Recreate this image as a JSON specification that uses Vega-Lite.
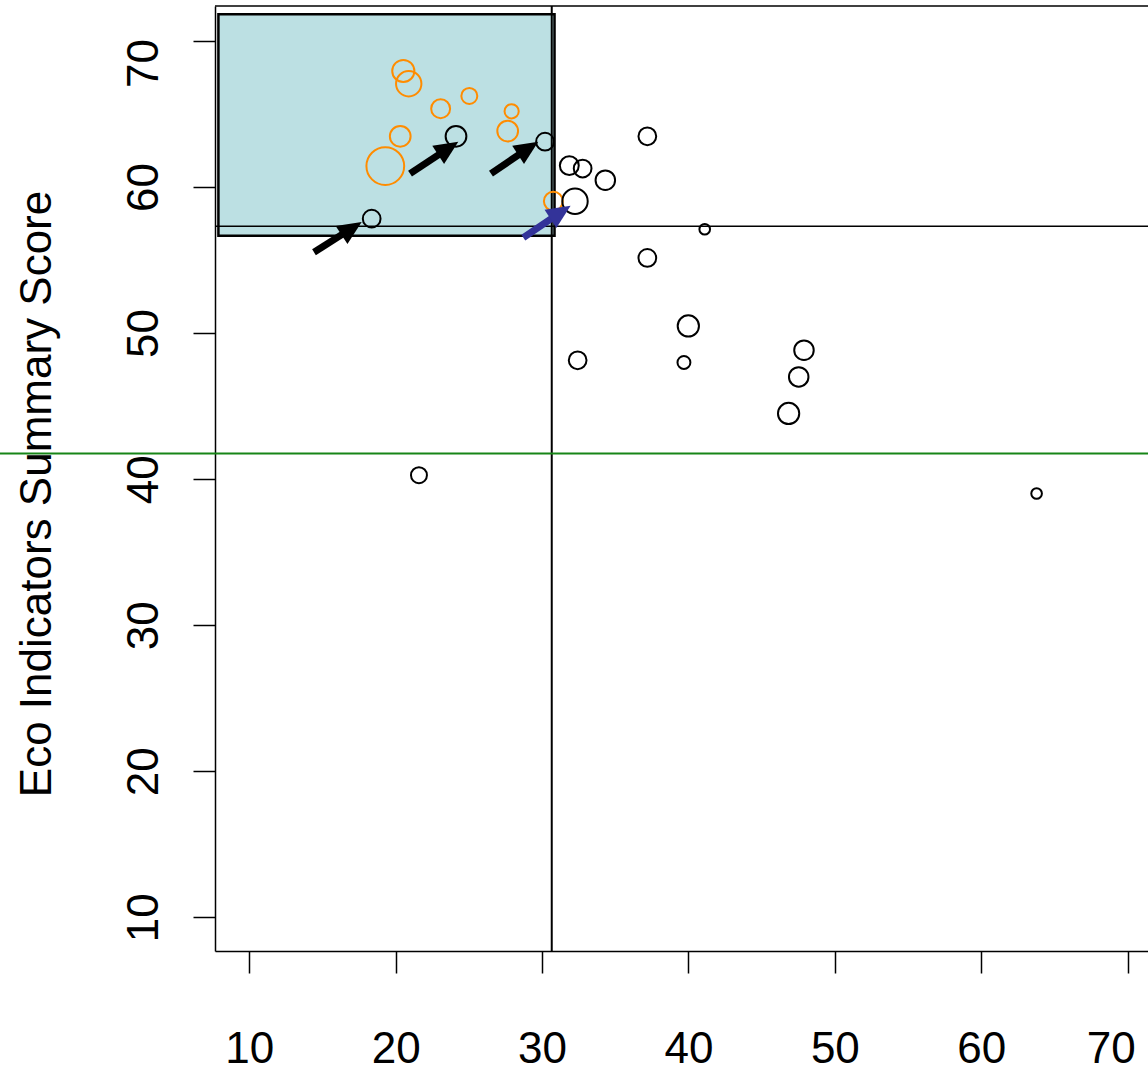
{
  "$schema": "https://vega.github.io/schema/vega-lite/v6.json",
  "width": 933,
  "height": 945,
  "autosize": {"type": "none"},
  "padding": {"left": 215, "top": 6, "right": 0, "bottom": 117},
  "background": "white",
  "config": {
    "view": {"stroke": null},
    "font": "Liberation Sans"
  },
  "datasets": {
    "pts": [
      {"x": 20.52, "y": 67.95, "w": 156, "g": "highlight"},
      {"x": 20.89, "y": 67.08, "w": 205, "g": "highlight"},
      {"x": 23.07, "y": 65.37, "w": 114, "g": "highlight"},
      {"x": 25.03, "y": 66.24, "w": 81, "g": "highlight"},
      {"x": 27.92, "y": 65.19, "w": 64, "g": "highlight"},
      {"x": 27.65, "y": 63.84, "w": 137, "g": "highlight"},
      {"x": 20.31, "y": 63.48, "w": 137, "g": "highlight"},
      {"x": 19.29, "y": 61.44, "w": 454, "g": "highlight"},
      {"x": 30.77, "y": 59.03, "w": 114, "g": "highlight"},
      {"x": 24.12, "y": 63.48, "w": 137, "g": "other"},
      {"x": 30.2, "y": 63.11, "w": 100, "g": "other"},
      {"x": 18.36, "y": 57.84, "w": 100, "g": "other"},
      {"x": 37.19, "y": 63.48, "w": 100, "g": "other"},
      {"x": 31.86, "y": 61.47, "w": 114, "g": "other"},
      {"x": 32.77, "y": 61.27, "w": 100, "g": "other"},
      {"x": 34.32, "y": 60.47, "w": 121, "g": "other"},
      {"x": 32.25, "y": 59.03, "w": 205, "g": "other"},
      {"x": 41.11, "y": 57.11, "w": 36, "g": "other"},
      {"x": 37.19, "y": 55.15, "w": 100, "g": "other"},
      {"x": 32.43, "y": 48.14, "w": 100, "g": "other"},
      {"x": 39.99, "y": 50.49, "w": 144, "g": "other"},
      {"x": 39.69, "y": 47.99, "w": 53, "g": "other"},
      {"x": 47.89, "y": 48.83, "w": 121, "g": "other"},
      {"x": 47.53, "y": 47.0, "w": 121, "g": "other"},
      {"x": 46.84, "y": 44.5, "w": 144, "g": "other"},
      {"x": 21.59, "y": 40.27, "w": 81, "g": "other"},
      {"x": 63.78, "y": 39.02, "w": 36, "g": "other"}
    ],
    "arrows": [
      {"x": 14.42, "y": 55.54, "hx": 16.99, "hy": 57.17, "g": "pointer"},
      {"x": 20.98, "y": 60.92, "hx": 23.59, "hy": 62.65, "g": "pointer"},
      {"x": 26.51, "y": 60.92, "hx": 29.05, "hy": 62.65, "g": "pointer"},
      {"x": 28.72, "y": 56.54, "hx": 31.26, "hy": 58.27, "g": "pointer2"}
    ],
    "box": [
      {"x1": 7.89, "x2": 30.85, "y1": 71.84, "y2": 56.67}
    ],
    "hlines": [
      {"y": 72.4, "kind": "frame"},
      {"y": 57.32, "kind": "cut"}
    ],
    "vlines": [
      {"x": 30.66}
    ],
    "green": [
      {"x": -7.03, "x2": 71.39, "y": 41.76}
    ]
  },
  "layer": [
    {
      "data": {"name": "box"},
      "mark": {"type": "rect", "fill": "#BCE0E3", "stroke": "#000000", "strokeWidth": 2.5},
      "encoding": {
        "x": {"field": "x1", "type": "quantitative",
          "scale": {"domain": [7.657, 71.39], "nice": false, "zero": false},
          "axis": {
            "values": [10, 20, 30, 40, 50, 60, 70],
            "title": null, "grid": false,
            "domain": true, "domainColor": "#000000", "domainWidth": 1.5,
            "ticks": true, "tickSize": 22, "tickWidth": 1.5, "tickColor": "#000000",
            "labelFont": "Liberation Sans", "labelFontSize": 44, "labelColor": "#000000",
            "labelPadding": 89, "labelBaseline": "alphabetic", "labelAlign": "center",
            "labelOffset": {"condition": {"test": "datum.value == 70", "value": -17}, "value": 0},
            "labelFlush": false, "labelOverlap": false
          }},
        "x2": {"field": "x2"},
        "y": {"field": "y1", "type": "quantitative",
          "scale": {"domain": [7.69, 72.4], "nice": false, "zero": false},
          "axis": {
            "values": [10, 20, 30, 40, 50, 60, 70],
            "title": "Eco Indicators Summary Score", "grid": false,
            "domain": true, "domainColor": "#000000", "domainWidth": 1.5,
            "ticks": true, "tickSize": 22, "tickWidth": 1.5, "tickColor": "#000000",
            "labelFont": "Liberation Sans", "labelFontSize": 44, "labelColor": "#000000",
            "labelAngle": -90, "labelAlign": "center", "labelBaseline": "alphabetic",
            "labelPadding": 36, "labelFlush": false, "labelOverlap": false,
            "labelOffset": {"condition": {"test": "datum.value == 70", "value": 22}, "value": 0},
            "titleFont": "Liberation Sans", "titleFontSize": 44, "titleFontWeight": "normal",
            "titleColor": "#000000", "titleAngle": 270, "titleAlign": "center",
            "titleBaseline": "alphabetic", "titleX": -165, "titleY": 487.5
          }},
        "y2": {"field": "y2"}
      }
    },
    {
      "data": {"name": "hlines"},
      "mark": {"type": "rule", "color": "#000000", "strokeWidth": 1.6},
      "encoding": {"y": {"field": "y", "type": "quantitative"}}
    },
    {
      "data": {"name": "vlines"},
      "mark": {"type": "rule", "color": "#000000", "strokeWidth": 2},
      "encoding": {"x": {"field": "x", "type": "quantitative"}}
    },
    {
      "data": {"name": "green"},
      "mark": {"type": "rule", "color": "#178517", "strokeWidth": 2},
      "encoding": {
        "x": {"field": "x", "type": "quantitative"},
        "x2": {"field": "x2"},
        "y": {"field": "y", "type": "quantitative"}
      }
    },
    {
      "data": {"name": "pts"},
      "mark": {"type": "point", "shape": "circle", "filled": false, "strokeWidth": 2, "opacity": 1},
      "encoding": {
        "x": {"field": "x", "type": "quantitative"},
        "y": {"field": "y", "type": "quantitative"},
        "size": {"field": "w", "type": "quantitative", "legend": null,
          "scale": {"domain": [0, 500], "range": [0, 1570.8], "zero": true}},
        "color": {"field": "g", "type": "nominal", "legend": null,
          "scale": {"domain": ["other", "highlight", "pointer", "pointer2"],
            "range": ["#000000", "#FF8C00", "#000000", "#333399"]}}
      }
    },
    {
      "data": {"name": "arrows"},
      "mark": {"type": "rule", "strokeWidth": 7, "strokeCap": "butt"},
      "encoding": {
        "x": {"field": "x", "type": "quantitative"},
        "y": {"field": "y", "type": "quantitative"},
        "x2": {"field": "hx"},
        "y2": {"field": "hy"},
        "color": {"field": "g", "type": "nominal", "legend": null}
      }
    },
    {
      "data": {"name": "arrows"},
      "mark": {"type": "point", "shape": "M0,-1L-0.9,1L0.9,1Z", "filled": true, "size": 576, "angle": 57, "opacity": 1, "strokeWidth": 0},
      "encoding": {
        "x": {"field": "hx", "type": "quantitative"},
        "y": {"field": "hy", "type": "quantitative"},
        "color": {"field": "g", "type": "nominal", "legend": null}
      }
    }
  ]
}
